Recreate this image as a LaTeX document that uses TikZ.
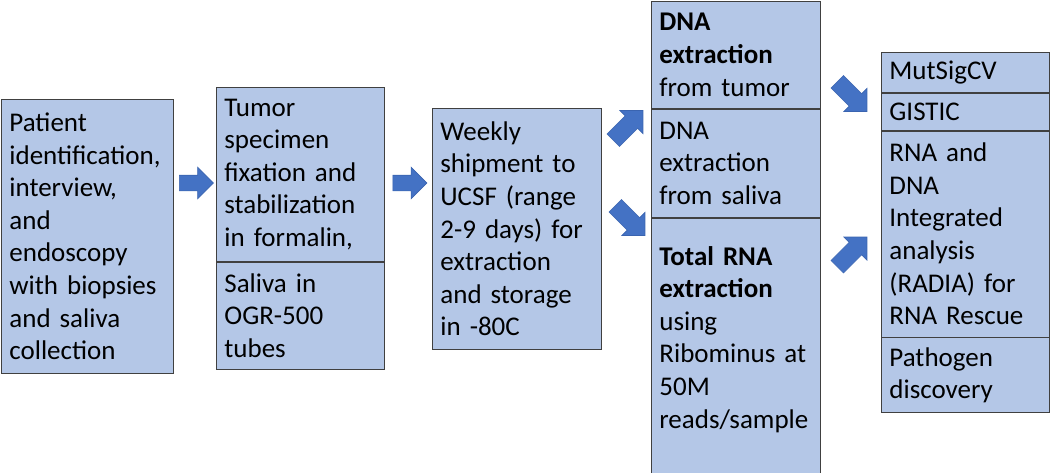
\documentclass[tikz,border=0pt]{standalone}
\usepackage{fontspec}
\setmainfont{Carlito}
\usepackage{tikz}
\usetikzlibrary{shapes.arrows,positioning}

\definecolor{cellblue}{HTML}{B4C7E7}
\definecolor{cellline}{HTML}{404040}
\definecolor{arrowblue}{HTML}{4472C4}
\definecolor{arrowline}{HTML}{3A64B0}

\begin{document}
\begin{tikzpicture}[
        x=1pt, y=-1pt,
        every node/.style={font=\fontsize{27pt}{32.6pt}\selectfont},
        cell/.style={draw=cellline, fill=cellblue, line width=0.8pt, rectangle, align=left,
            inner xsep=8pt, inner ysep=0pt},
        topcell/.style={cell, anchor=north west},
        blockarrow/.style={single arrow, draw=arrowline, fill=arrowblue, line width=0.6pt,
            inner xsep=0pt, inner ysep=7.5pt, single arrow head extend=8pt, minimum height=34pt},
        diagarrow/.style={blockarrow, minimum height=42pt, inner ysep=8.5pt,
            single arrow head extend=7.5pt}
    ]
    \useasboundingbox (0,0) rectangle (1050,472);

    % Nodes
    \node[topcell, text width=156pt, minimum height=274pt] (patient) at (1,99)
        {Patient\\ identification,\\ interview,\\ and\\ endoscopy\\ with biopsies\\ and saliva\\ collection};

    \node[topcell, text width=152pt, minimum height=174pt] (tumor) at (216,87)
        {Tumor\\ specimen\\ fixation and\\ stabilization\\ in formalin,};
    \node[cell, text width=152pt, minimum height=107pt, below=0pt of tumor] (saliva)
        {Saliva in\\ OGR-500\\ tubes};

    \node[topcell, text width=153pt, minimum height=241pt] (shipment) at (432,108)
        {Weekly\\ shipment to\\ UCSF (range\\ 2-9 days) for\\ extraction\\ and storage\\ in -80C};

    \node[topcell, text width=153pt, minimum height=107pt] (dnatumor) at (651,1)
        {\textbf{DNA}\\ \textbf{extraction}\\ from tumor};
    \node[cell, text width=153pt, minimum height=108pt, below=0pt of dnatumor] (dnasaliva)
        {DNA\\ extraction\\ from saliva};
    \node[cell, text width=153pt, minimum height=255pt, below=0pt of dnasaliva] (rnatotal)
        {\textbf{Total RNA}\\ \textbf{extraction}\\ using\\ Ribominus at\\ 50M\\ reads/sample\\[-16pt] \mbox{}};

    \node[topcell, text width=152pt, minimum height=40pt] (mutsig) at (881,52) {MutSigCV};
    \node[cell, text width=152pt, minimum height=37pt, below=0pt of mutsig] (gistic) {GISTIC};
    \node[cell, text width=152pt, minimum height=206pt, below=0pt of gistic] (radia)
        {RNA and\\ DNA\\ Integrated\\ analysis\\ (RADIA) for\\ RNA Rescue};
    \node[cell, text width=152pt, minimum height=75pt, below=0pt of radia] (pathogen)
        {Pathogen\\ discovery};

    % Arrows
    \node[blockarrow] (arrA) at (192.5,183) {};
    \node[blockarrow] (arrB) at (406,183) {};
    \node[diagarrow, rotate=45] (arrC) at (625,128.5) {};
    \node[diagarrow, rotate=-45] (arrD) at (627,217.5) {};
    \node[diagarrow, rotate=-45] (arrE) at (849,93.5) {};
    \node[diagarrow, rotate=45] (arrF) at (849,255) {};

\end{tikzpicture}
\end{document}
